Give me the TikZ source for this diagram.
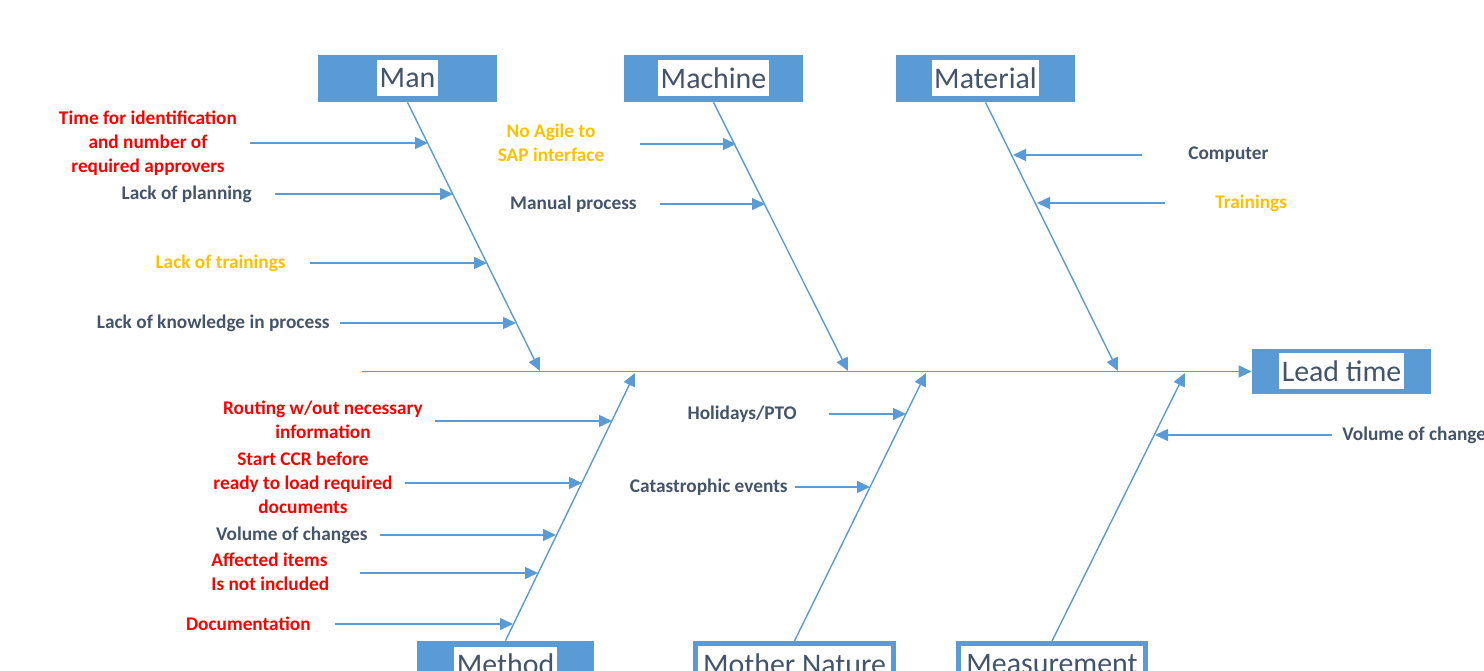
\documentclass[tikz,border=0pt]{standalone}
\usepackage{fontspec}
\setmainfont{Carlito}
\usetikzlibrary{arrows.meta,calc}
\definecolor{boxblue}{HTML}{5B9BD5}
\definecolor{inkblue}{HTML}{44546A}
\definecolor{causered}{HTML}{FF0000}
\definecolor{causeorange}{HTML}{FFC000}
\tikzset{
  catbox/.style={fill=boxblue, minimum width=3.58cm, minimum height=0.94cm, inner sep=0pt},
  cattext/.style={fill=white, text=inkblue, font=\fontsize{17}{20}\selectfont, inner xsep=1.5pt, inner ysep=0pt, minimum height=0.72cm},
  catframe/.style={draw=boxblue, line width=0.1cm, fill=white, minimum height=0.84cm, inner sep=0pt, text=inkblue, font=\fontsize{17}{20}\selectfont},
  bone/.style={draw=boxblue, line width=0.8pt, -{Triangle[length=0.26cm,width=0.24cm]}},
  twig/.style={bone},
  cause/.style={font=\bfseries\fontsize{11}{13.6}\selectfont, text=inkblue, inner sep=0pt},
  hotcause/.style={cause, text=causered},
  warncause/.style={cause, text=causeorange},
}
\begin{document}
\begin{tikzpicture}[x=0.02cm, y=-0.02cm]
  \useasboundingbox (0,0) rectangle (1484,671);

  % effect and spine
  \node[catbox, minimum height=0.9cm] (lead) at (1341.5,371.5) {};
  \node[cattext] (leadtxt) at (lead) {Lead time};
  \coordinate (spine) at (362,371.5);
  \draw[bone] (spine) -- (lead.west);

  % upper categories
  \node[catbox] (man) at (407.5,78.5) {};
  \node[cattext] (mantxt) at (man) {Man};
  \node[catbox] (machine) at (713.5,78.5) {};
  \node[cattext] (machinetxt) at (machine) {Machine};
  \node[catbox] (material) at (985.5,78.5) {};
  \node[cattext] (materialtxt) at (material) {Material};

  \coordinate (manEnd) at (540,371);
  \coordinate (machineEnd) at (848,371);
  \coordinate (materialEnd) at (1118,371);
  \draw[bone] (man.south) -- (manEnd);
  \draw[bone] (machine.south) -- (machineEnd);
  \draw[bone] (material.south) -- (materialEnd);

  % lower categories
  \node[catbox, minimum width=3.54cm] (method) at (505.5,664.5) {};
  \node[cattext] (methodtxt) at (method) {Method};
  \node[catframe, minimum width=3.96cm] (nature) at (794.5,664.5) {Mother Nature};
  \node[catframe, minimum width=3.74cm] (measure) at (1052,664.5) {Measurement};

  \coordinate (methodEnd) at (635,373);
  \coordinate (natureEnd) at (926,373);
  \coordinate (measureEnd) at (1185,373);
  \draw[bone] (method.north) -- (methodEnd);
  \draw[bone] (nature.north) -- (natureEnd);
  \draw[bone] (measure.north) -- (measureEnd);

  % Man
  \node[hotcause, align=center] (approvers) at (148,143) {Time for identification\\and number of\\required approvers};
  \node[cause, anchor=east] (planning) at (252,194) {Lack of planning};
  \node[warncause, anchor=east] (trainings) at (286,263) {Lack of trainings};
  \node[cause, anchor=east] (knowledge) at (330,323) {Lack of knowledge in process};
  \coordinate (approversA) at (250,143);
  \coordinate (approversB) at (428,143);
  \coordinate (planningA) at (275,194);
  \coordinate (planningB) at (453,194);
  \coordinate (trainingsA) at (310,263);
  \coordinate (trainingsB) at (487,263);
  \coordinate (knowledgeA) at (340,323);
  \coordinate (knowledgeB) at (516,323);
  \draw[twig] (approversA) -- (approversB);
  \draw[twig] (planningA) -- (planningB);
  \draw[twig] (trainingsA) -- (trainingsB);
  \draw[twig] (knowledgeA) -- (knowledgeB);

  % Machine
  \node[warncause, align=center] (agile) at (551,143) {No Agile to\\SAP interface};
  \node[cause, anchor=east] (manual) at (637,204) {Manual process};
  \coordinate (agileA) at (640,144);
  \coordinate (agileB) at (736,144);
  \coordinate (manualA) at (660,204);
  \coordinate (manualB) at (765,204);
  \draw[twig] (agileA) -- (agileB);
  \draw[twig] (manualA) -- (manualB);

  % Material
  \node[cause, anchor=west] (computer) at (1188,155) {Computer};
  \node[warncause, anchor=west] (mattrain) at (1215,203) {Trainings};
  \coordinate (computerA) at (1142,155);
  \coordinate (computerB) at (1013,155);
  \coordinate (mattrainA) at (1165,203);
  \coordinate (mattrainB) at (1037,203);
  \draw[twig] (computerA) -- (computerB);
  \draw[twig] (mattrainA) -- (mattrainB);

  % Method
  \node[hotcause, align=center] (routing) at (323,420) {Routing w/out necessary\\information};
  \node[hotcause, align=center] (startccr) at (303,483) {Start CCR before\\ready to load required\\documents};
  \node[cause, anchor=east] (volume) at (368,535) {Volume of changes};
  \node[hotcause, align=left, anchor=west] (affected) at (211,572) {Affected items\\Is not included};
  \node[hotcause, anchor=east] (docs) at (311,624) {Documentation};
  \coordinate (routingA) at (435,421);
  \coordinate (routingB) at (612,421);
  \coordinate (startccrA) at (405,483);
  \coordinate (startccrB) at (582,483);
  \coordinate (volumeA) at (380,535);
  \coordinate (volumeB) at (556,535);
  \coordinate (affectedA) at (360,573);
  \coordinate (affectedB) at (538,573);
  \coordinate (docsA) at (335,624);
  \coordinate (docsB) at (513,624);
  \draw[twig] (routingA) -- (routingB);
  \draw[twig] (startccrA) -- (startccrB);
  \draw[twig] (volumeA) -- (volumeB);
  \draw[twig] (affectedA) -- (affectedB);
  \draw[twig] (docsA) -- (docsB);

  % Mother Nature
  \node[cause, anchor=east] (holidays) at (797,414) {Holidays/PTO};
  \node[cause, anchor=east] (events) at (788,487) {Catastrophic events};
  \coordinate (holidaysA) at (829,414);
  \coordinate (holidaysB) at (906,414);
  \coordinate (eventsA) at (795,487);
  \coordinate (eventsB) at (870,487);
  \draw[twig] (holidaysA) -- (holidaysB);
  \draw[twig] (eventsA) -- (eventsB);

  % Measurement
  \node[cause, anchor=west] (changes) at (1342,435) {Volume of changes};
  \coordinate (changesA) at (1332,435);
  \coordinate (changesB) at (1155,435);
  \draw[twig] (changesA) -- (changesB);
\end{tikzpicture}
\end{document}
